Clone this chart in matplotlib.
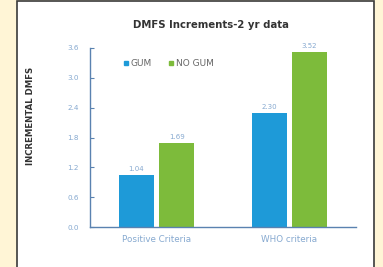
import matplotlib
matplotlib.use("Agg")
import matplotlib.pyplot as plt
from matplotlib.patches import Rectangle
from matplotlib.lines import Line2D
import numpy as np

categories = ["Positive Criteria", "WHO criteria"]
series_names = ["GUM", "NO GUM"]
gum = [1.04, 2.30]
no_gum = [1.69, 3.52]
yticks = [0.0, 0.6, 1.2, 1.8, 2.4, 3.0, 3.6]
title = "DMFS Increments-2 yr data"
ylabel = "INCREMENTAL DMFS"

blue = "#1E9AD8"
green = "#7DBB3B"
cream = "#FFF5D6"
tick_col = "#86A9D0"
spine_col = "#5A82B0"

fig = plt.figure(figsize=(3.83, 2.67), dpi=100)
fig.patch.set_facecolor(cream)
fig.patches.append(Rectangle((17/383, -0.01), (374-17)/383, 1.01 - 0.5/267,
                             transform=fig.transFigure, facecolor="white",
                             edgecolor="#3a3a3a", linewidth=1.2, zorder=-10))

ax = fig.add_axes([90/383, 1-227/267, (356-90)/383, (227-48)/267])
ax.set_zorder(5)
ax.set_facecolor("none")
x = np.arange(len(categories))
w = 0.263
off = w/2 + 0.02
b1 = ax.bar(x - off, gum, w, color=blue, label=series_names[0])
b2 = ax.bar(x + off, no_gum, w, color=green, label=series_names[1])
for bars, vals in ((b1, gum), (b2, no_gum)):
    for r, v in zip(bars, vals):
        ax.text(r.get_x() + r.get_width()/2, v + 0.06, f"{v:.2f}",
                ha="center", va="bottom", fontsize=5, color=tick_col)

ax.set_xlim(-0.5, 1.5)
ax.set_ylim(0, 3.6)
ax.set_yticks(yticks)
ax.set_yticklabels([f"{t:.1f}" for t in yticks])
ax.set_xticks(x)
ax.set_xticklabels(categories)
ax.tick_params(axis="y", direction="in", length=3, width=0.8, colors=spine_col,
               labelcolor=tick_col, labelsize=5.2, pad=8)
ax.tick_params(axis="x", length=0, labelcolor=tick_col, labelsize=6.3, pad=6)
for s in ("top", "right"):
    ax.spines[s].set_visible(False)
for s in ("left", "bottom"):
    ax.spines[s].set_color(spine_col)
    ax.spines[s].set_linewidth(1.0)

ax.set_ylabel(ylabel, fontsize=6.2, fontweight="bold", color="#333333")
ax.yaxis.set_label_coords(-0.205, 0.62)
fig.text(211/383, 1-25/267, title, ha="center", va="center", fontsize=7.3,
         fontweight="bold", color="#333333", zorder=6)

handles = [Line2D([], [], marker="s", linestyle="none", color=blue, markersize=3.5),
           Line2D([], [], marker="s", linestyle="none", color=green, markersize=3.5)]
leg = ax.legend(handles, series_names, loc="upper left", bbox_to_anchor=(0.09, 0.985),
                ncol=2, frameon=False, fontsize=6.5, handletextpad=0.1,
                columnspacing=1.8, handlelength=0.8)
for t in leg.get_texts():
    t.set_color("#666666")

fig.savefig("out.png", dpi=100, facecolor=cream)
